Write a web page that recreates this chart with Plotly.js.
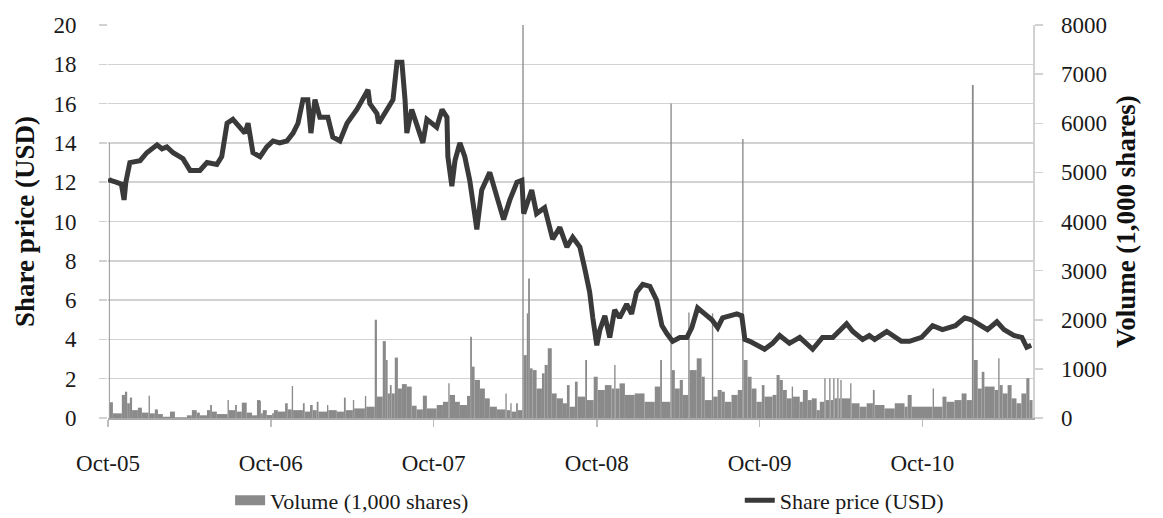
<!DOCTYPE html>
<html><head><meta charset="utf-8">
<script src="https://cdn.plot.ly/plotly-3.0.1.min.js"></script>
<style>html,body{margin:0;padding:0;background:#fff}#chart{width:1163px;height:518px}</style>
</head><body><div id="chart"></div>
<script>
const tickDates = ['2005-10-01','2006-10-01','2007-10-01','2008-10-01','2009-10-01','2010-10-01'];
const tickLabels = ['Oct-05','Oct-06','Oct-07','Oct-08','Oct-09','Oct-10'];

const priceDates = [
'2005-10-03','2005-10-05','2005-10-19','2005-10-31','2005-11-06','2005-11-10','2005-11-19','2005-12-12','2005-12-27',
'2006-01-19','2006-01-30','2006-02-10','2006-02-24','2006-03-18','2006-04-03','2006-04-25','2006-05-11','2006-06-02','2006-06-13','2006-06-25','2006-07-08','2006-07-24','2006-08-04','2006-08-11','2006-08-22','2006-09-07','2006-09-22','2006-10-06','2006-10-21','2006-11-06','2006-11-20','2006-12-01','2006-12-12','2006-12-23','2006-12-30',
'2007-01-08','2007-01-19','2007-02-06','2007-02-17','2007-03-05','2007-03-21','2007-04-12','2007-04-25','2007-05-07','2007-05-11','2007-05-27','2007-05-31','2007-06-18','2007-07-02','2007-07-11','2007-07-22','2007-07-29','2007-08-02','2007-08-13','2007-09-07','2007-09-16','2007-10-08','2007-10-20','2007-10-31','2007-11-02','2007-11-11','2007-11-18','2007-11-29','2007-12-10','2007-12-21',
'2008-01-01','2008-01-06','2008-01-17','2008-02-04','2008-02-22','2008-03-06','2008-03-20','2008-04-05','2008-04-16','2008-04-20','2008-05-08','2008-05-19','2008-06-06','2008-06-18','2008-06-24','2008-07-10','2008-07-26','2008-08-08','2008-08-24','2008-09-04','2008-09-15','2008-09-22','2008-10-01','2008-10-08','2008-10-19','2008-10-30','2008-11-10','2008-11-21','2008-12-07','2008-12-18','2008-12-29',
'2009-01-12','2009-01-28','2009-02-12','2009-02-24','2009-03-07','2009-03-20','2009-04-05','2009-04-21','2009-05-02','2009-05-15','2009-05-31','2009-06-16','2009-06-29','2009-07-10','2009-07-26','2009-08-11','2009-08-22','2009-08-29','2009-09-09','2009-09-24','2009-10-12','2009-10-30','2009-11-15','2009-12-07','2009-12-30',
'2010-01-28','2010-02-19','2010-03-14','2010-04-03','2010-04-14','2010-04-28','2010-05-20','2010-06-04','2010-06-16','2010-07-13','2010-08-15','2010-09-02','2010-09-29','2010-10-24','2010-11-15','2010-12-14',
'2011-01-04','2011-01-19','2011-02-01','2011-02-24','2011-03-17','2011-04-02','2011-04-24','2011-05-12','2011-05-23','2011-06-02'];
const priceValues = [
12.2,12.1,12.0,11.9,11.1,12.0,13.0,13.1,13.5,
13.9,13.7,13.8,13.5,13.2,12.6,12.6,13.0,12.9,13.3,15.0,15.2,14.8,14.5,15.0,13.5,13.3,13.8,14.1,14.0,14.1,14.5,15.0,16.2,16.2,14.5,
16.2,15.3,15.3,14.3,14.1,15.0,15.7,16.2,16.7,16.0,15.5,15.0,15.7,16.2,18.1,18.1,16.2,14.5,15.7,14.0,15.2,14.8,15.7,15.3,13.3,11.8,13.1,14.0,13.3,12.1,
10.4,9.6,11.6,12.5,11.1,10.1,11.1,12.0,12.1,10.4,11.6,10.4,10.7,9.7,9.1,9.7,8.7,9.2,8.7,7.6,6.4,5.1,3.7,4.5,5.2,4.1,5.5,5.1,5.8,5.3,6.4,
6.8,6.7,6.0,4.7,4.3,3.9,4.1,4.1,4.6,5.6,5.3,5.0,4.6,5.1,5.2,5.3,5.2,4.0,3.9,3.7,3.5,3.8,4.2,3.8,4.1,
3.5,4.1,4.1,4.6,4.8,4.4,4.0,4.2,4.0,4.4,3.9,3.9,4.1,4.7,4.5,4.7,
5.1,5.0,4.8,4.5,4.9,4.5,4.2,4.1,3.6,3.7];

const volumeDates = [
'2005-10-03','2005-10-05','2005-10-12','2005-11-01','2005-11-08','2005-11-13','2005-11-19','2005-11-24','2005-12-07','2005-12-16','2005-12-31',
'2006-01-03','2006-01-14','2006-01-21','2006-02-01','2006-02-17','2006-02-28','2006-03-27','2006-04-07','2006-04-18','2006-04-25','2006-05-11','2006-05-18','2006-05-22','2006-06-02','2006-06-26','2006-06-29','2006-07-13','2006-07-17','2006-07-28','2006-08-08','2006-08-20','2006-08-31','2006-09-07','2006-09-09','2006-09-13','2006-09-22','2006-10-04','2006-10-08','2006-10-17','2006-11-02','2006-11-08','2006-11-17','2006-11-20','2006-12-12','2006-12-16','2006-12-28',
'2007-01-03','2007-01-12','2007-01-16','2007-02-04','2007-02-07','2007-02-26','2007-03-14','2007-03-18','2007-04-03','2007-04-06','2007-04-30','2007-05-03','2007-05-22','2007-05-27','2007-06-09','2007-06-16','2007-06-20','2007-06-25','2007-06-29','2007-07-06','2007-07-13','2007-07-22','2007-08-02','2007-08-13','2007-08-24','2007-09-07','2007-09-16','2007-10-08','2007-10-22','2007-11-03','2007-11-06','2007-11-18','2007-11-29','2007-12-15','2007-12-22','2007-12-26',
'2008-01-01','2008-01-13','2008-01-24','2008-02-04','2008-02-20','2008-03-10','2008-03-13','2008-03-21','2008-03-24','2008-04-03','2008-04-07','2008-04-17','2008-04-20','2008-04-27','2008-04-30','2008-05-04','2008-05-10','2008-05-19','2008-05-31','2008-06-06','2008-06-13','2008-06-22','2008-07-03','2008-07-17','2008-07-26','2008-08-01','2008-08-13','2008-08-19','2008-09-05','2008-09-09','2008-09-24','2008-10-03','2008-10-19','2008-11-03','2008-11-09','2008-11-12','2008-11-21','2008-12-03','2008-12-25',
'2009-01-16','2009-02-08','2009-02-20','2009-02-24','2009-03-15','2009-03-18','2009-03-25','2009-04-05','2009-04-12','2009-04-24','2009-04-27','2009-05-13','2009-05-24','2009-05-31','2009-06-16','2009-06-19','2009-06-29','2009-07-08','2009-07-15','2009-07-30','2009-08-13','2009-08-23','2009-08-26','2009-09-04','2009-09-13','2009-09-24','2009-10-06','2009-10-12','2009-10-30','2009-11-08','2009-11-15','2009-11-22','2009-12-01','2009-12-12','2009-12-15','2009-12-30',
'2010-01-06','2010-01-17','2010-01-26','2010-02-06','2010-02-13','2010-02-23','2010-02-26','2010-03-06','2010-03-09','2010-03-15','2010-03-18','2010-03-24','2010-03-27','2010-03-31','2010-04-03','2010-04-22','2010-04-25','2010-05-13','2010-05-29','2010-06-12','2010-06-16','2010-07-08','2010-07-31','2010-08-22','2010-08-29','2010-09-07','2010-10-24','2010-10-27','2010-11-15','2010-11-24','2010-12-12','2010-12-28',
'2011-01-08','2011-01-20','2011-01-24','2011-02-02','2011-02-11','2011-02-17','2011-03-12','2011-03-20','2011-03-23','2011-03-30','2011-04-10','2011-04-19','2011-04-30','2011-05-11','2011-05-22','2011-05-29'];
const volumeValues = [
5600,320,95,470,535,300,415,160,210,110,455,
95,175,80,25,130,15,55,160,110,55,160,265,130,80,365,160,265,130,312,110,55,365,350,95,160,60,95,160,130,300,175,650,160,300,130,265,
160,330,130,265,160,130,415,160,365,195,450,230,2000,435,1565,1180,500,670,500,1230,600,690,640,250,175,455,195,265,330,705,470,330,265,450,1655,1045,
775,600,400,230,175,500,160,300,130,300,160,8100,1280,2130,2840,1010,975,600,910,1080,1420,500,400,300,670,230,740,435,1180,365,840,570,670,600,1080,600,705,470,500,
330,640,1180,330,6400,975,600,775,470,2150,975,1215,840,365,2130,435,570,535,330,470,570,5680,1180,840,600,330,670,435,470,875,775,570,400,640,435,330,
570,365,400,160,330,810,365,810,365,810,400,810,400,775,400,705,300,230,300,570,265,195,300,230,470,230,600,230,435,330,365,500,
365,6780,1180,600,940,640,570,1215,670,500,670,400,300,500,810,365];

const volumeWidths = volumeDates.map((d, i) => {
  const t0 = Date.parse(d);
  if (i < volumeDates.length - 1) return Date.parse(volumeDates[i + 1]) - t0;
  return t0 - Date.parse(volumeDates[i - 1]);
});

const FONT = 'Liberation Serif, Times New Roman, serif';
const VOL_COLOR = '#8a8a8a';
const PRICE_COLOR = '#3a3a3a';
const GRID = '#d2d2d2';

const traces = [
  {type:'bar', x:volumeDates, y:volumeValues, width:volumeWidths, offset:0, yaxis:'y',
   marker:{color:VOL_COLOR, line:{width:0}}, showlegend:false, hoverinfo:'skip', name:'Volume (1,000 shares)'},
  {type:'scatter', mode:'lines', x:[null], y:[null], yaxis:'y', name:'Volume (1,000 shares)', legend:'legend',
   line:{color:VOL_COLOR, width:12}, hoverinfo:'skip'},
  {type:'scatter', mode:'lines', x:priceDates, y:priceValues, yaxis:'y2', name:'Share price (USD)', legend:'legend2',
   line:{color:PRICE_COLOR, width:5}}
];

const legendBase = {orientation:'h', xanchor:'left', yref:'container', y:0.034, yanchor:'middle',
  font:{family:FONT, size:22, color:'#1a1a1a'}, bgcolor:'rgba(0,0,0,0)'};

const layout = {
  width:1163, height:518,
  margin:{l:108, r:130, t:25, b:100},
  paper_bgcolor:'#fff', plot_bgcolor:'#fff',
  font:{family:FONT, size:22, color:'#1a1a1a'},
  showlegend:true,
  legend:Object.assign({}, legendBase, {x:0.132}),
  legend2:Object.assign({}, legendBase, {x:0.683}),
  xaxis:{type:'date', range:['2005-10-01','2011-06-06'], tickmode:'array', tickvals:tickDates, ticktext:tickLabels,
         ticks:'outside', ticklen:7, tickwidth:1.5, tickcolor:'#bdbdbd', showline:true, linecolor:'#a8a8a8', linewidth:2,
         showgrid:false, zeroline:false, ticklabelstandoff:16, tickfont:{family:FONT, size:23, color:'#1a1a1a'}},
  yaxis:{side:'right', range:[0,8000], tick0:0, dtick:1000, ticks:'outside', ticklen:8, tickwidth:1.5, tickcolor:GRID,
         showline:true, linecolor:GRID, linewidth:1.5, showgrid:false, zeroline:false, ticklabelstandoff:14,
         tickfont:{family:FONT, size:23, color:'#1a1a1a'},
         title:{text:'<b>Volume (1,000 shares)</b>', font:{family:FONT, size:27, color:'#111'}, standoff:10}},
  yaxis2:{overlaying:'y', side:'left', range:[0,20], tick0:0, dtick:2, ticks:'outside', ticklen:8, tickwidth:1.5, tickcolor:GRID,
          showgrid:true, gridcolor:GRID, gridwidth:1.5, showline:false, zeroline:false, ticklabelstandoff:18,
          tickfont:{family:FONT, size:23, color:'#1a1a1a'},
          title:{text:'<b>Share price (USD)</b>', font:{family:FONT, size:27, color:'#111'}, standoff:10}}
};

Plotly.newPlot('chart', traces, layout, {staticPlot:true, displayModeBar:false});
</script>
</body></html>
